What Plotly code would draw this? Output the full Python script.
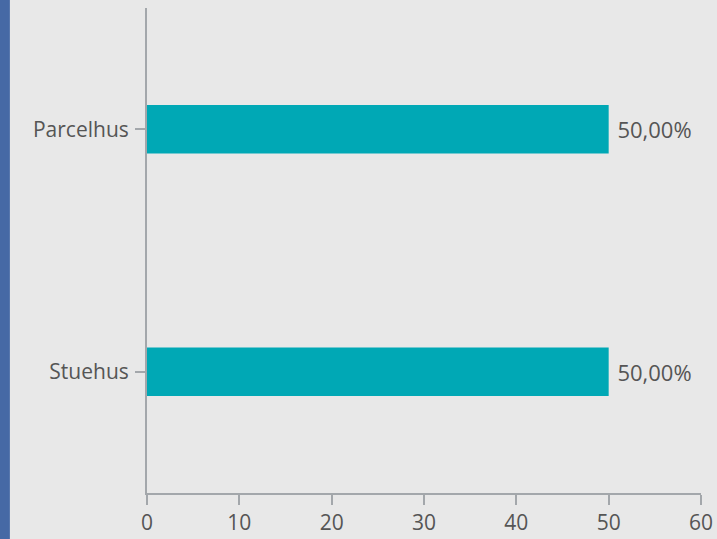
import plotly.graph_objects as go

categories = ["Stuehus", "Parcelhus"]
values = [50, 50]
labels = ["50,00%", "50,00%"]
x_ticks = [0, 10, 20, 30, 40, 50, 60]
x_tick_text = ["0", "10", "20", "30", "40", "50", "60"]

bg = "#e8e8e8"
axis_col = "#a3a7ab"
text_col = "#555555"
font_family = "Open Sans, Noto Sans, sans-serif"

fig = go.Figure()
fig.add_trace(go.Bar(
    y=categories, x=values, orientation="h",
    text=labels, texttemplate="\u00a0%{text}", textposition="outside",
    constraintext="none",
    textfont=dict(size=22, color=text_col, family=font_family),
    marker=dict(color="#00a8b5", line=dict(width=0)),
    width=0.2, cliponaxis=False,
))

fig.update_layout(
    width=717, height=539,
    margin=dict(l=147, r=16, t=8, b=46),
    paper_bgcolor=bg, plot_bgcolor=bg,
    showlegend=False,
    font=dict(family=font_family, color=text_col),
    xaxis=dict(range=[0, 60], tickvals=x_ticks, ticktext=x_tick_text,
               showgrid=False, zeroline=False, automargin=False,
               showline=True, linecolor=axis_col, linewidth=2,
               ticks="outside", ticklen=10, tickcolor=axis_col, tickwidth=2,
               ticklabeloverflow="allow", ticklabelstandoff=0,
               tickfont=dict(size=21, color=text_col)),
    yaxis=dict(showgrid=False, zeroline=False, showline=True, linecolor=axis_col,
               linewidth=2, ticks="outside", ticklen=10, tickcolor=axis_col,
               tickwidth=2, tickfont=dict(size=21, color=text_col),
               automargin=False, ticklabelstandoff=2),
    shapes=[dict(type="rect", xref="paper", yref="paper",
                 x0=-0.2655, x1=-0.2475, y0=-0.2, y1=1.2,
                 fillcolor="#4669a5", line=dict(width=0), layer="above")],
)

fig.write_html("out.html", config={"displayModeBar": False},
               post_script="document.body.style.margin='0';document.body.style.background='#e8e8e8';")
